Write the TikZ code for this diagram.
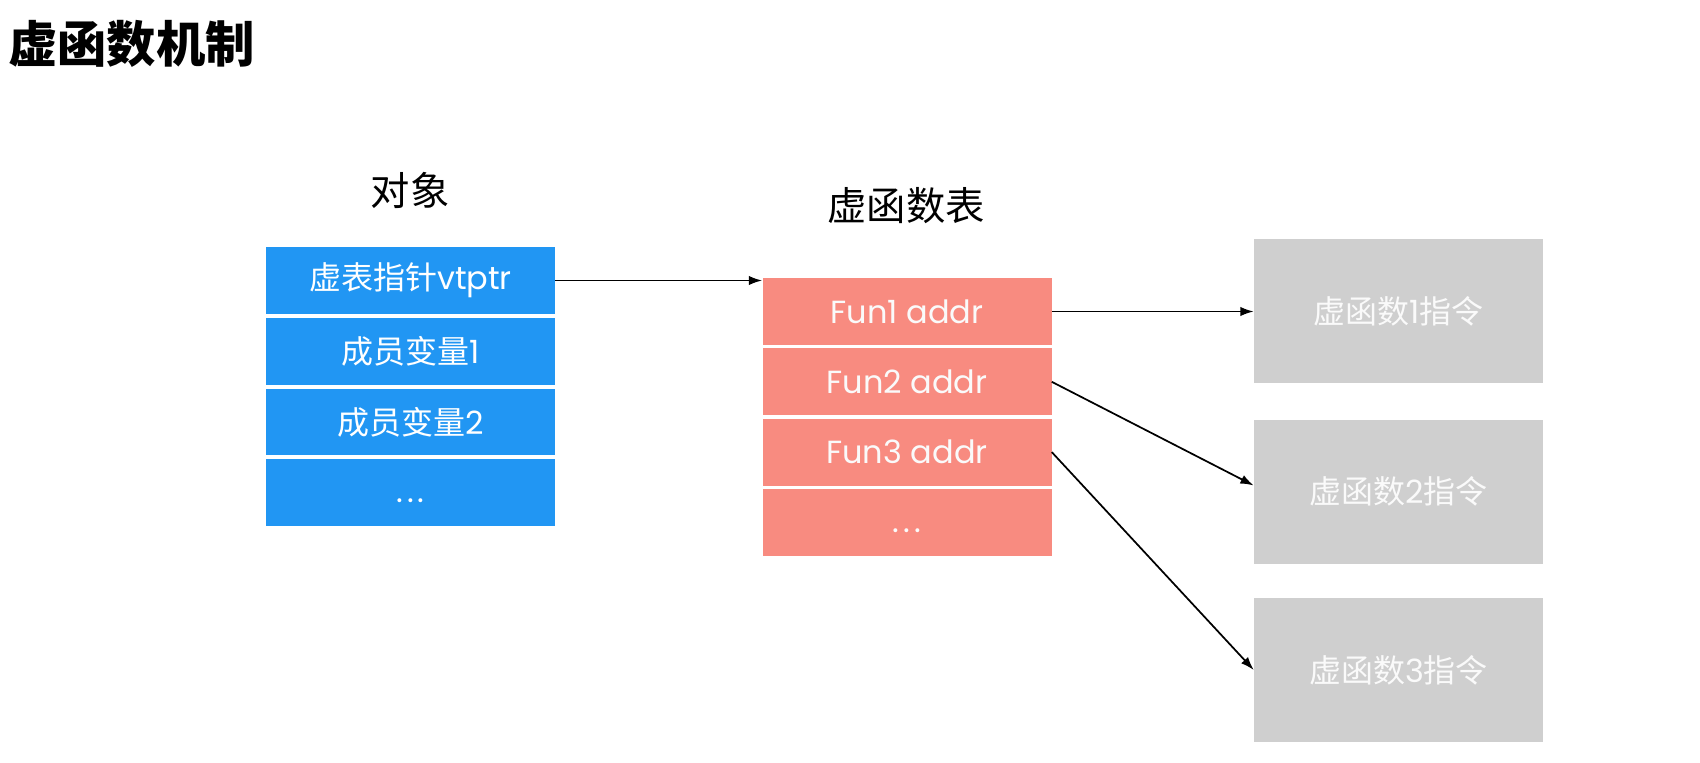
\documentclass[tikz,border=0pt]{standalone}
\usepackage{fontspec}
\setmainfont{Noto Sans CJK SC}
\newfontfamily\pop{Poppins}
\usetikzlibrary{arrows.meta,calc}
\definecolor{objblue}{RGB}{33,150,243}
\definecolor{tabred}{RGB}{248,139,128}
\definecolor{insgray}{RGB}{207,207,207}
\definecolor{lighttxt}{RGB}{250,250,250}
\tikzset{
  cell/.style={rectangle, inner sep=0pt, minimum width=216.75pt, text=white, font=\fontsize{24}{28}\selectfont},
  objcell/.style={cell, fill=objblue, minimum height=50pt},
  tabcell/.style={cell, fill=tabred, minimum height=50.25pt, text=lighttxt},
  inscell/.style={cell, fill=insgray, minimum height=108pt, text=lighttxt},
  heading/.style={font=\fontsize{29.5}{34}\selectfont, text=black, inner sep=0pt},
  dots/.style={text=white, inner sep=0pt, font=\pop\fontsize{24}{28}\selectfont},
  ptr/.style={-{Latex[length=10pt,width=7pt]}, line width=1.3pt, black}
}
\begin{document}
\begin{tikzpicture}[x=0.75pt, y=-0.75pt]
\useasboundingbox (0,0) rectangle (1700,763);
\fill[white] (0,0) rectangle (1700,763);

\node[anchor=west, inner sep=0pt, font=\fontsize{37}{42}\selectfont\bfseries] (title) at (8,44) {虚函数机制};

\node[heading] (objlbl) at (410,190) {对象};
\node[heading] (tablbl) at (906,206) {虚函数表};

\node[objcell] (b1) at (410.5,280.5) {虚表指针{\pop vtptr}};
\node[objcell] (b2) at (410.5,351.2) {成员变量{\pop 1}};
\node[objcell] (b3) at (410.5,421.9) {成员变量{\pop 2}};
\node[objcell] (b4) at (410.5,492.6) {};
\node[dots, text=white] (b4t) at ($(b4.center)+(0,8)$) {.\hspace{3pt}.\hspace{3pt}.};

\node[tabcell] (r1) at (907,311.5) {\pop Fun1 addr};
\node[tabcell] (r2) at (907,381.8) {\pop Fun2 addr};
\node[tabcell] (r3) at (907,452.1) {\pop Fun3 addr};
\node[tabcell] (r4) at (907,522.4) {};
\node[dots, text=lighttxt] (r4t) at ($(r4.center)+(0,8)$) {.\hspace{3pt}.\hspace{3pt}.};

\node[inscell] (g1) at (1398.5,311) {虚函数{\pop 1}指令};
\node[inscell] (g2) at (1398.5,491.5) {虚函数{\pop 2}指令};
\node[inscell] (g3) at (1398.5,670) {虚函数{\pop 3}指令};

\draw[ptr] (b1.east) -- (b1.east -| r1.west);
\draw[ptr] (r1.east) -- (r1.east -| g1.west);
\draw[ptr] (r2.east) -- ($(g2.west)+(0,-6)$);
\draw[ptr] (r3.east) -- (g3.west);
\end{tikzpicture}
\end{document}
